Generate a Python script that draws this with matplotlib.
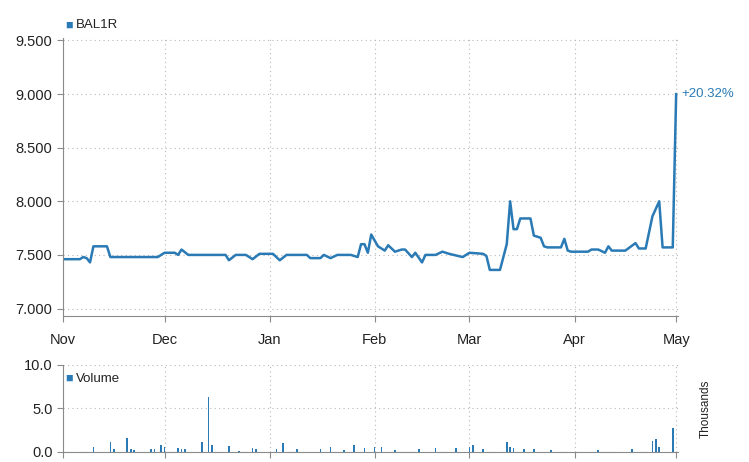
import matplotlib
matplotlib.use('Agg')
import matplotlib.pyplot as plt
import pandas as pd

plt.rcParams['font.family'] = ['Liberation Sans', 'DejaVu Sans']

# price keypoints
price_dates = ['2013-11-01', '2013-11-06', '2013-11-07', '2013-11-08', '2013-11-09', '2013-11-10',
               '2013-11-14', '2013-11-15', '2013-11-29', '2013-12-01', '2013-12-04', '2013-12-05',
               '2013-12-06', '2013-12-08', '2013-12-19', '2013-12-20', '2013-12-22', '2013-12-25',
               '2013-12-27', '2013-12-29', '2014-01-02', '2014-01-04', '2014-01-06', '2014-01-12',
               '2014-01-13', '2014-01-16', '2014-01-17', '2014-01-19', '2014-01-21', '2014-01-25',
               '2014-01-27', '2014-01-28', '2014-01-29', '2014-01-30', '2014-01-31', '2014-02-02',
               '2014-02-04', '2014-02-05', '2014-02-07', '2014-02-09', '2014-02-10', '2014-02-12',
               '2014-02-13', '2014-02-15', '2014-02-16', '2014-02-19', '2014-02-21', '2014-02-23',
               '2014-02-27', '2014-03-01', '2014-03-05', '2014-03-06', '2014-03-07', '2014-03-10',
               '2014-03-12', '2014-03-13', '2014-03-14', '2014-03-15', '2014-03-16', '2014-03-19',
               '2014-03-20', '2014-03-22', '2014-03-23', '2014-03-24', '2014-03-28', '2014-03-29',
               '2014-03-30', '2014-03-31', '2014-04-05', '2014-04-06', '2014-04-08', '2014-04-10',
               '2014-04-11', '2014-04-12', '2014-04-16', '2014-04-19', '2014-04-20', '2014-04-22',
               '2014-04-24', '2014-04-26', '2014-04-27', '2014-04-30', '2014-05-01']
price_vals = [7.46, 7.46, 7.48, 7.47, 7.43, 7.58,
              7.58, 7.48, 7.48, 7.52, 7.52, 7.50,
              7.55, 7.50, 7.50, 7.45, 7.50, 7.50,
              7.46, 7.51, 7.51, 7.45, 7.50, 7.50,
              7.47, 7.47, 7.50, 7.47, 7.50, 7.50,
              7.48, 7.60, 7.60, 7.52, 7.69, 7.58,
              7.54, 7.59, 7.53, 7.55, 7.55, 7.48,
              7.52, 7.43, 7.50, 7.50, 7.53, 7.51,
              7.48, 7.52, 7.51, 7.49, 7.36, 7.36,
              7.60, 8.00, 7.74, 7.74, 7.84, 7.84,
              7.68, 7.66, 7.58, 7.57, 7.57, 7.65,
              7.54, 7.53, 7.53, 7.55, 7.55, 7.52,
              7.58, 7.54, 7.54, 7.61, 7.56, 7.56,
              7.86, 8.00, 7.57, 7.57, 9.00]

# volume (thousands)
vol_dates = ['2013-11-10', '2013-11-15', '2013-11-16', '2013-11-20', '2013-11-21', '2013-11-22',
             '2013-11-27', '2013-11-28', '2013-11-30', '2013-12-01', '2013-12-05', '2013-12-06',
             '2013-12-07', '2013-12-12', '2013-12-14', '2013-12-15', '2013-12-20', '2013-12-23',
             '2013-12-27', '2013-12-28', '2014-01-03', '2014-01-05', '2014-01-09', '2014-01-16',
             '2014-01-19', '2014-01-23', '2014-01-26', '2014-01-29', '2014-02-01', '2014-02-03',
             '2014-02-07', '2014-02-14', '2014-02-19', '2014-02-25', '2014-03-01', '2014-03-02',
             '2014-03-05', '2014-03-12', '2014-03-13', '2014-03-14', '2014-03-17', '2014-03-20',
             '2014-03-25', '2014-04-08', '2014-04-18', '2014-04-24', '2014-04-25', '2014-04-26',
             '2014-04-30']
vol_vals = [0.5, 1.1, 0.3, 1.6, 0.3, 0.2,
            0.3, 0.3, 0.8, 0.5, 0.4, 0.3,
            0.3, 1.1, 6.3, 0.8, 0.7, 0.1,
            0.4, 0.3, 0.3, 1.0, 0.3, 0.3,
            0.5, 0.2, 0.8, 0.4, 0.6, 0.5,
            0.2, 0.3, 0.4, 0.4, 0.6, 0.8,
            0.3, 1.1, 0.5, 0.4, 0.3, 0.3,
            0.2, 0.2, 0.3, 1.2, 1.5, 0.5,
            2.8]

month_ticks = ['2013-11-01', '2013-12-01', '2014-01-01', '2014-02-01', '2014-03-01', '2014-04-01', '2014-05-01']
month_labels = ['Nov', 'Dec', 'Jan', 'Feb', 'Mar', 'Apr', 'May']

blue = '#2a7ab5'
grid_c = '#b8b8b8'
axis_c = '#8a8a8a'

px = pd.to_datetime(price_dates)
vx = pd.to_datetime(vol_dates)
mt = pd.to_datetime(month_ticks)
x0 = pd.Timestamp('2013-11-01')
x1 = pd.Timestamp('2014-05-01') + pd.Timedelta(hours=12)

fig = plt.figure(figsize=(7.49, 4.62), dpi=100)
ax = fig.add_axes([0.084, 0.316, 0.821, 0.601])
axv = fig.add_axes([0.084, 0.022, 0.821, 0.188])

ax.plot(px, price_vals, color=blue, lw=1.8)
ax.set_ylim(6.93, 9.52)
ax.set_yticks([7.0, 7.5, 8.0, 8.5, 9.0, 9.5])
ax.set_yticklabels(['7.000', '7.500', '8.000', '8.500', '9.000', '9.500'])
ax.set_xlim(x0, x1)
ax.set_xticks(mt)
ax.set_xticklabels(month_labels)
ax.text(px[-1] + pd.Timedelta(days=1.5), price_vals[-1], '+20.32%', color=blue,
        fontsize=9.5, va='center', ha='left')
ax.text(0.003, 1.047, '\u25a0', color=blue, transform=ax.transAxes, fontsize=9, va='center')
ax.text(0.021, 1.047, 'BAL1R', color='#222222', transform=ax.transAxes, fontsize=9.5, va='center')

axv.bar(vx, vol_vals, width=0.5, color=blue)
axv.set_ylim(0, 10)
axv.set_yticks([0, 5, 10])
axv.set_yticklabels(['0.0', '5.0', '10.0'])
axv.set_xlim(x0, x1)
axv.set_xticks(mt)
axv.set_xticklabels([])
axv.text(0.003, 0.84, '\u25a0', color=blue, transform=axv.transAxes, fontsize=9, va='center')
axv.text(0.021, 0.84, 'Volume', color='#222222', transform=axv.transAxes, fontsize=9.5, va='center')
axv.text(1.045, 0.5, 'Thousands', rotation=90, transform=axv.transAxes, fontsize=8.5,
         va='center', ha='center', color='#222222')

for a in (ax, axv):
    a.grid(True, color=grid_c, ls=(0, (1, 3)), lw=0.8)
    for s in ('top', 'right'):
        a.spines[s].set_visible(False)
    for s in ('left', 'bottom'):
        a.spines[s].set_color(axis_c)
    a.tick_params(colors=axis_c, labelcolor='#222222', labelsize=10.5, length=4)
    a.set_axisbelow(True)
ax.tick_params(axis='x', pad=8)

fig.savefig('out.png', dpi=100)
